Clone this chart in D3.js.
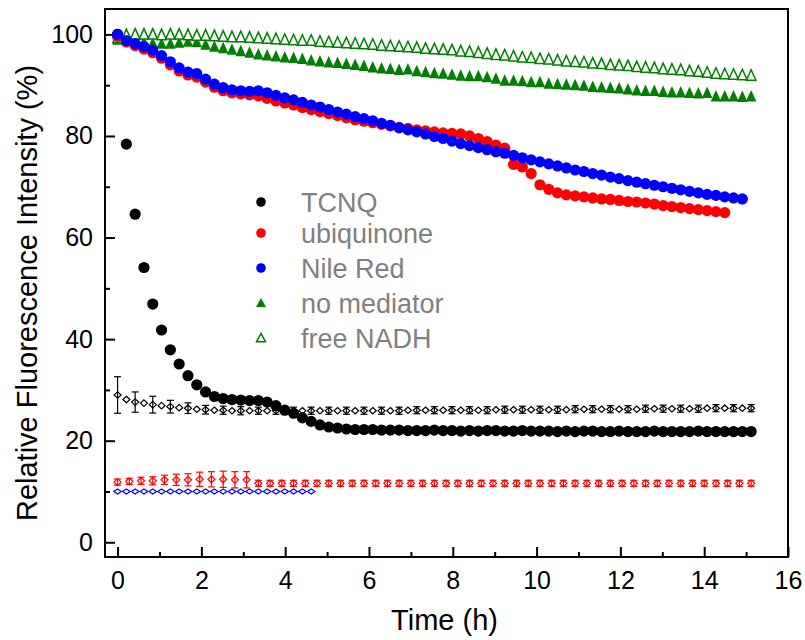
<!DOCTYPE html>
<html>
<head>
<meta charset="utf-8">
<script src="https://cdn.jsdelivr.net/npm/d3@7"></script>
<style>
  html, body { margin: 0; padding: 0; background: #fff; }
  svg { display: block; font-family: "Liberation Sans", Arial, sans-serif; }
</style>
</head>
<body>
<svg id="chart" width="805" height="640"></svg>
<script>
// Sampling times (h) for the fluorescence kinetics
const timeFine = [0, 0.21, 0.42, 0.63, 0.84, 1.05, 1.26, 1.47, 1.68, 1.89, 2.10, 2.31, 2.52, 2.73, 2.94,
  3.15, 3.36, 3.57, 3.78, 3.99, 4.20, 4.41, 4.62, 4.83, 5.04, 5.25, 5.46, 5.67, 5.88, 6.09, 6.30, 6.51,
  6.72, 6.93, 7.14, 7.35, 7.56, 7.77, 7.98, 8.19, 8.40, 8.61, 8.82, 9.03, 9.24, 9.45, 9.66, 9.87, 10.08,
  10.29, 10.50, 10.71, 10.92, 11.13, 11.34, 11.55, 11.76, 11.97, 12.18, 12.39, 12.60, 12.81, 13.02,
  13.23, 13.44, 13.65, 13.86, 14.07, 14.28, 14.49, 14.70, 14.91, 15.12];

const timeCoarse = [0, 0.28, 0.56, 0.84, 1.12, 1.40, 1.68, 1.96, 2.24, 2.52, 2.80, 3.08, 3.36, 3.64,
  3.92, 4.20, 4.48, 4.76, 5.04, 5.32, 5.60, 5.88, 6.16, 6.44, 6.72, 7.00, 7.28, 7.56, 7.84, 8.12, 8.40,
  8.68, 8.96, 9.24, 9.52, 9.80, 10.08, 10.36, 10.64, 10.92, 11.20, 11.48, 11.76, 12.04, 12.32, 12.60,
  12.88, 13.16, 13.44, 13.72, 14.00, 14.28, 14.56, 14.84, 15.12];

// Relative fluorescence intensity (%)
const tcnq = [100.0, 78.4, 64.6, 54.1, 46.9, 41.8, 37.9, 35.1, 32.8, 31.0, 29.6, 28.7, 28.3, 28.1, 28.0,
  27.9, 27.9, 27.6, 26.9, 26.0, 25.4, 24.5, 23.8, 23.1, 22.7, 22.5, 22.3, 22.2, 22.2, 22.2, 22.1, 22.1,
  22.1, 22.0, 22.0, 22.0, 22.1, 22.0, 22.0, 21.9, 22.0, 21.9, 22.0, 22.0, 21.9, 21.9, 22.0, 21.9, 21.9,
  21.9, 21.8, 21.9, 21.8, 21.9, 21.9, 21.8, 21.8, 21.9, 21.8, 21.8, 21.8, 21.9, 21.8, 21.8, 21.8, 21.8,
  21.9, 21.8, 21.8, 21.8, 21.8, 21.8, 21.8];

const ubiquinone = [99.6, 98.5, 97.8, 97.1, 96.4, 95.3, 94.0, 92.8, 92.0, 91.6, 90.6, 89.6, 88.9, 88.5,
  88.3, 88.1, 87.9, 87.4, 86.9, 86.5, 86.1, 85.6, 85.2, 84.8, 84.4, 84.0, 83.6, 83.2, 82.9, 82.6, 82.3,
  82.0, 81.7, 81.5, 81.2, 81.0, 80.8, 80.6, 80.5, 80.4, 80.0, 79.5, 78.9, 78.2, 77.6, 74.4, 73.9, 72.6,
  70.4, 69.5, 68.8, 68.4, 68.2, 68.0, 67.8, 67.6, 67.5, 67.3, 67.1, 67.0, 66.8, 66.6, 66.3, 66.1, 65.9,
  65.7, 65.5, 65.3, 65.1, 64.9];

const nileRed = [100.0, 98.8, 98.2, 97.6, 96.9, 95.8, 94.6, 93.4, 92.6, 92.3, 91.2, 90.2, 89.5, 89.1,
  88.9, 88.8, 88.9, 88.5, 88.0, 87.5, 87.1, 86.6, 86.1, 85.7, 85.2, 84.7, 84.3, 83.8, 83.4, 83.0, 82.5,
  82.1, 81.6, 81.2, 80.8, 80.4, 79.9, 79.5, 79.0, 78.5, 78.1, 77.7, 77.3, 76.9, 76.6, 76.2, 75.7, 75.3,
  74.9, 74.5, 74.1, 73.7, 73.3, 73.0, 72.6, 72.3, 71.9, 71.6, 71.2, 70.9, 70.6, 70.3, 70.0, 69.7, 69.4,
  69.1, 68.8, 68.5, 68.3, 68.0, 67.8, 67.6];

const noMediator = [99.0, 98.9, 98.8, 98.5, 98.3, 98.2, 98.2, 98.4, 98.6, 98.5, 98.0, 97.6, 97.3, 97.0,
  96.7, 96.4, 96.1, 95.9, 95.7, 95.5, 95.4, 95.2, 94.9, 94.7, 94.5, 94.4, 94.2, 94.0, 93.8, 93.5, 93.3,
  93.2, 93.0, 93.1, 92.8, 92.6, 92.4, 92.3, 92.1, 91.9, 91.8, 91.8, 91.6, 91.3, 90.9, 90.9, 90.8, 90.6,
  90.6, 90.3, 90.2, 90.1, 90.0, 89.9, 89.7, 89.6, 89.5, 89.4, 89.2, 89.0, 88.9, 88.9, 88.7, 88.6, 88.6,
  88.5, 88.4, 88.5, 87.8, 87.8, 87.8, 87.7, 87.8];

const freeNADH = [99.3, 99.9, 100.0, 100.0, 100.0, 99.9, 100.0, 100.0, 99.9, 99.8, 99.8, 99.7, 99.6, 99.5,
  99.5, 99.4, 99.3, 99.2, 99.1, 99.0, 98.9, 98.8, 98.8, 98.6, 98.5, 98.4, 98.3, 98.2, 98.1, 98.0, 97.8,
  97.7, 97.6, 97.5, 97.4, 97.2, 97.1, 97.0, 96.9, 96.7, 96.6, 96.4, 96.2, 96.0, 95.9, 95.7, 95.5, 95.4,
  95.2, 95.1, 94.9, 94.7, 94.6, 94.5, 94.3, 94.2, 94.0, 93.9, 93.8, 93.6, 93.5, 93.4, 93.2, 93.1, 93.0,
  92.8, 92.7, 92.5, 92.3, 92.2, 92.1, 92.0, 91.9];

// Background (mediator-only) controls with standard deviations
const tcnqControl = [29.0, 28.1, 27.6, 27.4, 27.1, 26.9, 26.7, 26.5, 26.4, 26.2, 26.1, 26.0, 26.0, 25.9,
  25.9, 25.9, 25.9, 25.9, 25.9, 25.9, 25.9, 25.9, 25.9, 25.9, 25.9, 25.9, 25.9, 25.9, 25.9, 25.9, 25.9,
  25.9, 25.9, 26.0, 26.0, 26.0, 26.0, 26.0, 26.0, 26.0, 26.0, 26.0, 26.0, 26.1, 26.1, 26.1, 26.1, 26.1,
  26.1, 26.1, 26.1, 26.1, 26.2, 26.2, 26.2, 26.2, 26.2, 26.2, 26.2, 26.2, 26.3, 26.3, 26.3, 26.3, 26.3,
  26.3, 26.3, 26.4, 26.4, 26.4, 26.4, 26.4, 26.4];
const tcnqControlErr = [3.6, 0, 2.0, 0, 1.65, 0, 1.25, 0, 1.05, 0, 0.85, 0, 0.8, 0, 0.8, 0, 0.7, 0, 0.7,
  0, 0.7, 0, 0.7, 0, 0.7, 0, 0.7, 0, 0.7, 0, 0.7, 0, 0.7, 0, 0.7, 0, 0.7, 0, 0.7, 0, 0.7, 0, 0.7, 0,
  0.7, 0, 0.7, 0, 0.7, 0, 0.7, 0, 0.7, 0, 0.7, 0, 0.7, 0, 0.7, 0, 0.7, 0, 0.7, 0, 0.7, 0, 0.7, 0, 0.7,
  0, 0.7, 0, 0.7];

const ubiControl = [11.85, 12.0, 12.1, 12.1, 12.3, 12.3, 12.3, 12.4, 12.4, 12.4, 12.3, 12.3, 11.6, 11.6,
  11.6, 11.6, 11.6, 11.6, 11.6, 11.6, 11.6, 11.6, 11.6, 11.6, 11.6, 11.6, 11.6, 11.6, 11.6, 11.6, 11.6,
  11.6, 11.6, 11.6, 11.6, 11.6, 11.6, 11.6, 11.6, 11.6, 11.6, 11.6, 11.6, 11.6, 11.6, 11.6, 11.6, 11.6,
  11.6, 11.6, 11.6, 11.6, 11.6, 11.6, 11.6];
const ubiControlErr = [0.6, 0.6, 0.7, 0.8, 0.9, 1.1, 1.2, 1.4, 1.5, 1.6, 1.6, 1.6, 0.6, 0.6, 0.6, 0.6,
  0.6, 0.6, 0.6, 0.6, 0.6, 0.6, 0.6, 0.6, 0.6, 0.6, 0.6, 0.6, 0.6, 0.6, 0.6, 0.6, 0.6, 0.6, 0.6, 0.6,
  0.6, 0.6, 0.6, 0.6, 0.6, 0.6, 0.6, 0.6, 0.6, 0.6, 0.6, 0.6, 0.6, 0.6, 0.6, 0.6, 0.6, 0.6, 0.6];

const nileControl = [10.0, 10.0, 10.0, 10.0, 10.0, 10.0, 10.0, 10.0, 10.0, 10.0, 10.0, 10.0, 10.0, 10.0,
  10.0, 10.0, 10.0, 10.0, 10.0, 10.0, 10.0, 10.0, 10.0];

const legendLabels = ["TCNQ", "ubiquinone", "Nile Red", "no mediator", "free NADH"];
const xTicks = [0, 2, 4, 6, 8, 10, 12, 14, 16];
const xMinorTicks = [1, 3, 5, 7, 9, 11, 13, 15];
const yTicks = [0, 20, 40, 60, 80, 100];
const yMinorTicks = [10, 30, 50, 70, 90];

const svg = d3.select("#chart");
const plot = { left: 105, right: 788, top: 9, bottom: 557 };

const x = d3.scaleLinear().domain([-0.3, 16]).range([plot.left, plot.right]);
const y = d3.scaleLinear().domain([-2.9, 105]).range([plot.bottom, plot.top]);

const GREEN = "#008000", RED = "#ff0000", BLUE = "#0000ff";

// axes with inward ticks
svg.append("g").attr("transform", `translate(0,${plot.bottom})`)
  .call(d3.axisBottom(x).tickValues(xTicks).tickSize(-10).tickPadding(14).tickFormat(d3.format("d")));
svg.append("g").attr("transform", `translate(0,${plot.bottom})`)
  .call(d3.axisBottom(x).tickValues(xMinorTicks).tickSize(-5).tickFormat(""));
svg.append("g").attr("transform", `translate(${plot.left},0)`)
  .call(d3.axisLeft(y).tickValues(yTicks).tickSize(-10).tickPadding(12).tickFormat(d3.format("d")));
svg.append("g").attr("transform", `translate(${plot.left},0)`)
  .call(d3.axisLeft(y).tickValues(yMinorTicks).tickSize(-5).tickFormat(""));

svg.selectAll(".domain").remove();
svg.selectAll(".tick line").attr("stroke", "#000").attr("stroke-width", 2);
svg.selectAll(".tick text").attr("fill", "#000").style("font-size", "25px");

// plot frame
svg.append("rect")
  .attr("x", plot.left).attr("y", plot.top)
  .attr("width", plot.right - plot.left).attr("height", plot.bottom - plot.top)
  .attr("fill", "none").attr("stroke", "#000").attr("stroke-width", 2);

// axis titles
svg.append("text")
  .attr("x", (plot.left + plot.right) / 2 - 2).attr("y", 630)
  .attr("text-anchor", "middle").style("font-size", "29px").text("Time (h)");
svg.append("text")
  .attr("transform", `translate(37,${(plot.top + plot.bottom) / 2 + 10}) rotate(-90)`)
  .attr("text-anchor", "middle").style("font-size", "29px")
  .text("Relative Fluorescence Intensity (%)");

const g = svg.append("g");

// upward triangle centred on the point
const trianglePath = (w, h) => `M0,${-h * 0.55}L${w / 2},${h * 0.45}L${-w / 2},${h * 0.45}Z`;
const diamondPath = (w, h) => `M0,${-h / 2}L${w / 2},0L0,${h / 2}L${-w / 2},0Z`;

function zip(ts, vs) { return vs.map((v, i) => ({ t: ts[i], v })); }

// triangles: no mediator (filled), free NADH (open)
g.append("g").selectAll("path").data(zip(timeFine, noMediator)).join("path")
  .attr("d", trianglePath(10.5, 11.5)).attr("transform", d => `translate(${x(d.t)},${y(d.v)})`)
  .attr("fill", GREEN);
g.append("g").selectAll("path").data(zip(timeFine, freeNADH)).join("path")
  .attr("d", trianglePath(9.5, 10.5)).attr("transform", d => `translate(${x(d.t)},${y(d.v)})`)
  .attr("fill", "#fff").attr("stroke", GREEN).attr("stroke-width", 1.5);

// circles
function circles(data, color) {
  g.append("g").selectAll("circle").data(data).join("circle")
    .attr("cx", d => x(d.t)).attr("cy", d => y(d.v)).attr("r", 5.6).attr("fill", color);
}
circles(zip(timeFine, tcnq), "#000");
circles(zip(timeFine, ubiquinone), RED);
circles(zip(timeFine, nileRed), BLUE);

// control series: open diamonds with error bars
function diamonds(ts, vs, errs, color, w, h) {
  const data = vs.map((v, i) => ({ t: ts[i], v, e: errs ? errs[i] : 0 }));
  const grp = g.append("g").attr("stroke", color).attr("stroke-width", 1.2);
  const withErr = data.filter(d => d.e > 0);
  grp.selectAll("line.bar").data(withErr).join("line").attr("class", "bar")
    .attr("x1", d => x(d.t)).attr("x2", d => x(d.t))
    .attr("y1", d => y(d.v - d.e)).attr("y2", d => y(d.v + d.e));
  grp.selectAll("line.capT").data(withErr).join("line").attr("class", "capT")
    .attr("x1", d => x(d.t) - 3.5).attr("x2", d => x(d.t) + 3.5)
    .attr("y1", d => y(d.v + d.e)).attr("y2", d => y(d.v + d.e));
  grp.selectAll("line.capB").data(withErr).join("line").attr("class", "capB")
    .attr("x1", d => x(d.t) - 3.5).attr("x2", d => x(d.t) + 3.5)
    .attr("y1", d => y(d.v - d.e)).attr("y2", d => y(d.v - d.e));
  grp.selectAll("path").data(data).join("path")
    .attr("d", diamondPath(w, h))
    .attr("transform", d => `translate(${x(d.t)},${y(d.v)})`)
    .attr("fill", "none");
}
diamonds(timeFine, tcnqControl, tcnqControlErr, "#000", 7, 6.5);
diamonds(timeCoarse, ubiControl, ubiControlErr, RED, 7, 7);
diamonds(timeFine, nileControl, null, BLUE, 7.5, 5);

// legend
const legend = svg.append("g").attr("transform", "translate(261,0)");
const legendY = [202, 233, 268, 303, 338];
const legendMarks = [
  { kind: "circle", color: "#000" },
  { kind: "circle", color: RED },
  { kind: "circle", color: BLUE },
  { kind: "tri", color: GREEN, fill: true },
  { kind: "tri", color: GREEN, fill: false }
];
legendMarks.forEach((m, i) => {
  if (m.kind === "circle") {
    legend.append("circle").attr("cx", 0).attr("cy", legendY[i]).attr("r", 4.8).attr("fill", m.color);
  } else {
    legend.append("path").attr("d", trianglePath(m.fill ? 10 : 9, m.fill ? 9 : 8.5))
      .attr("transform", `translate(0,${legendY[i]})`)
      .attr("fill", m.fill ? m.color : "#fff")
      .attr("stroke", m.fill ? "none" : m.color).attr("stroke-width", 1.5);
  }
  legend.append("text").attr("x", 40).attr("y", legendY[i]).attr("dy", "0.36em")
    .style("font-size", "27px").attr("fill", "#808080").text(legendLabels[i]);
});
</script>
</body>
</html>
